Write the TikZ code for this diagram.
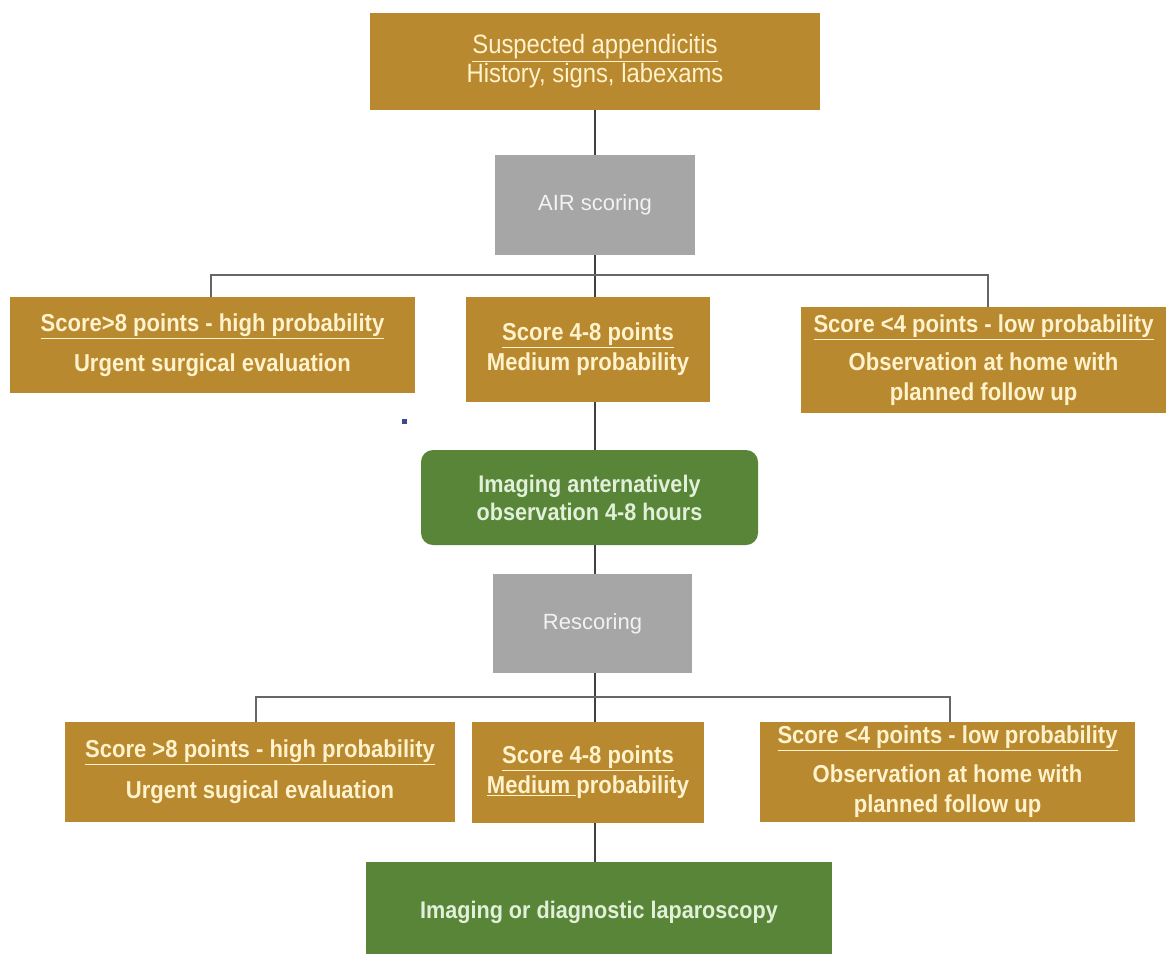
\documentclass[tikz,border=0pt]{standalone}
\usepackage{fontspec}
\setmainfont{Liberation Sans}
\newfontfamily\boxfont[FakeStretch=0.9]{Liberation Sans}
\definecolor{gold}{HTML}{B8892E}
\definecolor{goldtxt}{HTML}{FFF2CC}
\definecolor{grn}{HTML}{588538}
\definecolor{grntxt}{HTML}{E2F0D9}
\definecolor{gry}{HTML}{A6A6A6}
\definecolor{grytxt}{HTML}{F2F2F2}
\definecolor{conn}{HTML}{404040}
\definecolor{dot}{HTML}{3B4B8C}
\begin{document}
\begin{tikzpicture}[x=1pt,y=-1pt,
  goldbox/.style={fill=gold, inner sep=0pt, align=center, text=goldtxt,
    font=\boxfont\bfseries\fontsize{24.5}{30}\selectfont},
  greenbox/.style={fill=grn, inner sep=0pt, align=center, text=grntxt,
    font=\boxfont\bfseries\fontsize{24}{28}\selectfont},
  greybox/.style={fill=gry, inner sep=0pt, align=center, text=grytxt,
    font=\fontsize{22}{26}\selectfont},
  link/.style={draw=conn, line width=1.5pt},
  bar/.style={draw=conn!80, line width=1.8pt}]
\useasboundingbox (0,0) rectangle (1166,953);
\fill[white] (0,0) rectangle (1166,953);

% top
\node[goldbox, font=\boxfont\fontsize{26.5}{29}\selectfont, minimum width=450pt, minimum height=97pt] (top) at (595,61.5)
  {\underline{Suspected appendicitis}\\History, signs, labexams};
\node[greybox, minimum width=200pt, minimum height=100pt] (air) at (595,205) {AIR scoring};

\node[goldbox, minimum width=405pt, minimum height=96pt] (L1) at (212.5,345)
  {\underline{Score>8 points - high probability}\\[10pt]Urgent surgical evaluation};
\node[goldbox, minimum width=244pt, minimum height=105pt] (M1) at (588,349.5)
  {\underline{Score 4-8 points}\\Medium probability};
\node[goldbox, minimum width=365pt, minimum height=106pt] (R1) at (983.5,360)
  {\underline{Score <4 points - low probability}\\[8pt]Observation at home with\\planned follow up};

\node[greenbox, rounded corners=12pt, minimum width=337pt, minimum height=95pt] (G1) at (589.5,497.5)
  {Imaging anternatively\\observation 4-8 hours};
\node[greybox, minimum width=199pt, minimum height=99pt] (resc) at (592.5,623.5) {Rescoring};

\node[goldbox, minimum width=390pt, minimum height=100pt] (L2) at (260,772)
  {\underline{Score >8 points - high probability}\\[11pt]Urgent sugical evaluation};
\node[goldbox, minimum width=232pt, minimum height=101pt] (M2) at (588,772.5)
  {\underline{Score 4-8 points}\\\underline{Medium }probability};
\node[goldbox, minimum width=375pt, minimum height=100pt] (R2) at (947.5,772)
  {\underline{Score <4 points - low probability}\\[9pt]Observation at home with\\planned follow up};

\node[greenbox, minimum width=466pt, minimum height=100pt] (G2) at (599,912)
  {Imaging or diagnostic laparoscopy};

% connectors
\coordinate (b1) at (595,275);
\coordinate (b2) at (595,697);
\draw[link] (top.south -| b1) -- (air.north -| b1);
\draw[link] (air.south -| b1) -- (M1.north -| b1);
\draw[bar] (L1.north -| 211,0) |- (b1) -| (R1.north -| 988,0);
\draw[link] (M1.south -| b1) -- (G1.north -| b1);
\draw[link] (G1.south -| b1) -- (resc.north -| b1);
\draw[link] (resc.south -| b2) -- (M2.north -| b2);
\draw[bar] (L2.north -| 256,0) |- (b2) -| (R2.north -| 950,0);
\draw[link] (M2.south -| b2) -- (G2.north -| b2);

\fill[dot] (401.5,418.5) rectangle (406.5,423.5);
\end{tikzpicture}
\end{document}
